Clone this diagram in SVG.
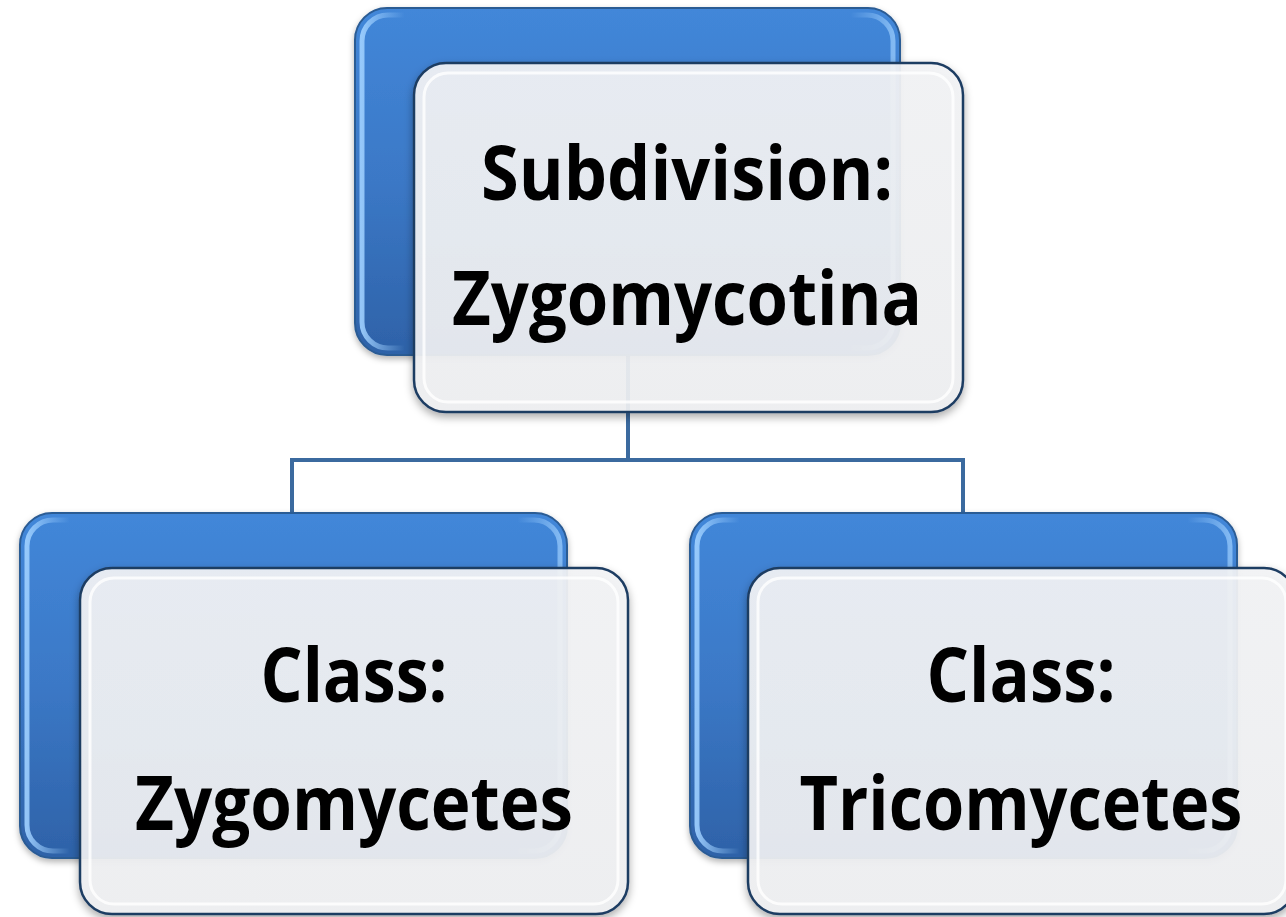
<svg xmlns="http://www.w3.org/2000/svg" width="1286" height="917" viewBox="0 0 1286 917">
<defs>
<linearGradient id="blueG" x1="0" y1="0" x2="0" y2="1">
<stop offset="0" stop-color="#4287d9"/>
<stop offset="0.5" stop-color="#3b78c6"/>
<stop offset="1" stop-color="#2e62a8"/>
</linearGradient>
<linearGradient id="bevelG" x1="0" y1="0" x2="1" y2="0">
<stop offset="0" stop-color="#9fd0ff" stop-opacity="0.9"/>
<stop offset="0.08" stop-color="#9fd0ff" stop-opacity="0"/>
<stop offset="0.92" stop-color="#9fd0ff" stop-opacity="0"/>
<stop offset="1" stop-color="#9fd0ff" stop-opacity="0.7"/>
</linearGradient>
<linearGradient id="lightG" x1="0" y1="0" x2="0" y2="1">
<stop offset="0" stop-color="#f3f4f6"/>
<stop offset="1" stop-color="#eff0f2"/>
</linearGradient>
<filter id="sh" x="-10%" y="-10%" width="120%" height="125%">
<feDropShadow dx="0" dy="4" stdDeviation="4" flood-color="#000" flood-opacity="0.35"/>
</filter>
<filter id="shb" x="-10%" y="-10%" width="120%" height="125%">
<feDropShadow dx="0" dy="3" stdDeviation="3" flood-color="#000" flood-opacity="0.3"/>
</filter>
</defs>
<style>
.blue{fill:url(#blueG);stroke:#2b5b94;stroke-width:2}
.bevel{fill:none;stroke:url(#bevelG);stroke-width:5}
.light{fill:url(#lightG);fill-opacity:0.92;stroke:#1f3c62;stroke-width:2.5}
.inner{fill:none;stroke:#ffffff;stroke-opacity:0.8;stroke-width:3}
.conn{fill:none;stroke:#3b6a9f;stroke-width:4}
.t{font-family:"Open Sans","Liberation Sans",sans-serif;font-weight:bold;font-size:75px;fill:#000;text-anchor:middle}
</style>
<g id="connectors">
<path class="conn" d="M628,355 V460"/>
<path class="conn" d="M292,514 V460 H963 V514"/>
</g>
<g id="node-top">
<rect class="blue" x="355" y="8" width="545" height="347" rx="32" filter="url(#shb)"/>
<rect class="bevel" x="362" y="15" width="531" height="333" rx="26"/>
<rect class="light" x="414" y="63" width="549" height="349" rx="32" filter="url(#sh)"/>
<rect class="inner" x="424" y="73" width="529" height="329" rx="24"/>
<text class="t" x="687" y="200" textLength="412" lengthAdjust="spacingAndGlyphs">Subdivision:</text>
<text class="t" x="687" y="325" textLength="470" lengthAdjust="spacingAndGlyphs">Zygomycotina</text>
</g>
<g id="node-left">
<rect class="blue" x="20" y="513" width="547" height="345" rx="32" filter="url(#shb)"/>
<rect class="bevel" x="27" y="520" width="533" height="331" rx="26"/>
<rect class="light" x="80" y="568" width="548" height="346" rx="32" filter="url(#sh)"/>
<rect class="inner" x="90" y="578" width="528" height="326" rx="24"/>
<text class="t" x="354" y="702" textLength="187" lengthAdjust="spacingAndGlyphs">Class:</text>
<text class="t" x="354" y="830" textLength="438" lengthAdjust="spacingAndGlyphs">Zygomycetes</text>
</g>
<g id="node-right">
<rect class="blue" x="690" y="513" width="547" height="345" rx="32" filter="url(#shb)"/>
<rect class="bevel" x="697" y="520" width="533" height="331" rx="26"/>
<rect class="light" x="748" y="568" width="548" height="346" rx="32" filter="url(#sh)"/>
<rect class="inner" x="758" y="578" width="528" height="326" rx="24"/>
<text class="t" x="1021" y="702" textLength="189" lengthAdjust="spacingAndGlyphs">Class:</text>
<text class="t" x="1021" y="830" textLength="443" lengthAdjust="spacingAndGlyphs">Tricomycetes</text>
</g>
</svg>
